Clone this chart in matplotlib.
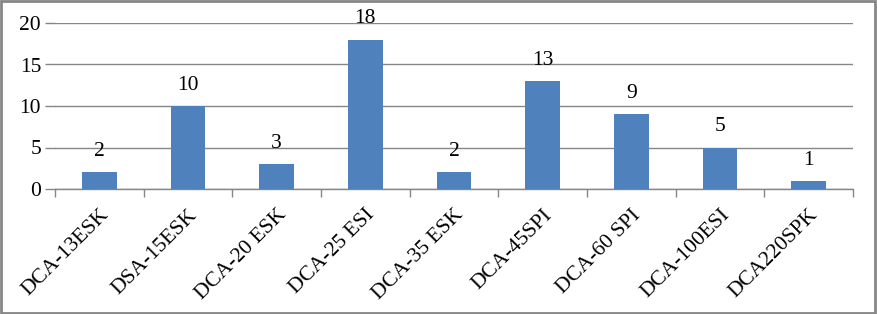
import matplotlib.pyplot as plt

models = ["DCA-13ESK", "DSA-15ESK", "DCA-20 ESK", "DCA-25 ESI", "DCA-35 ESK",
          "DCA-45SPI", "DCA-60 SPI", "DCA-100ESI", "DCA220SPK"]
counts = [2, 10, 3, 18, 2, 13, 9, 5, 1]
yticks = [0, 5, 10, 15, 20]

plt.rcParams["font.family"] = ["Liberation Serif", "DejaVu Serif"]

fig = plt.figure(figsize=(8.77, 3.14), dpi=100, facecolor="white")
W, H = 877, 314
ax = fig.add_axes([55 / W, 1 - 189 / H, (853 - 55) / W, (189 - 23) / H])

x = list(range(len(models)))
bars = ax.bar(x, counts, width=0.39, color="#4F81BD", zorder=3)
for xi, v in zip(x, counts):
    ax.annotate(str(v), (xi, v), xytext=(0, 8), textcoords="offset points",
                ha="center", va="bottom", fontsize=15.5, color="black")

ax.set_xlim(-0.5, len(models) - 0.5)
ax.set_ylim(0, 20)
ax.set_yticks(yticks)
ax.yaxis.grid(True, color="#868686", linewidth=1.0, zorder=0)
ax.tick_params(axis="y", length=7, width=1.0, color="#868686", labelsize=15.5, pad=3)

# category tick marks at boundaries, labels at centres
ax.set_xticks([i - 0.5 for i in range(len(models) + 1)], minor=True)
ax.set_xticks(x)
ax.set_xticklabels(models, rotation=45, ha="right", rotation_mode="anchor", fontsize=15.5)
ax.tick_params(axis="x", which="major", length=0, pad=12)
ax.tick_params(axis="x", which="minor", length=6, width=1.0, color="#868686")

for s in ["top", "right", "left"]:
    ax.spines[s].set_visible(False)
ax.spines["bottom"].set_color("#868686")
ax.spines["bottom"].set_linewidth(1.0)

# outer chart border
fig.patches.append(plt.Rectangle((0.001, 0.002), 0.997, 0.995, transform=fig.transFigure,
                                 fill=False, edgecolor="#868686", linewidth=2))

fig.savefig("out.png", dpi=100)
